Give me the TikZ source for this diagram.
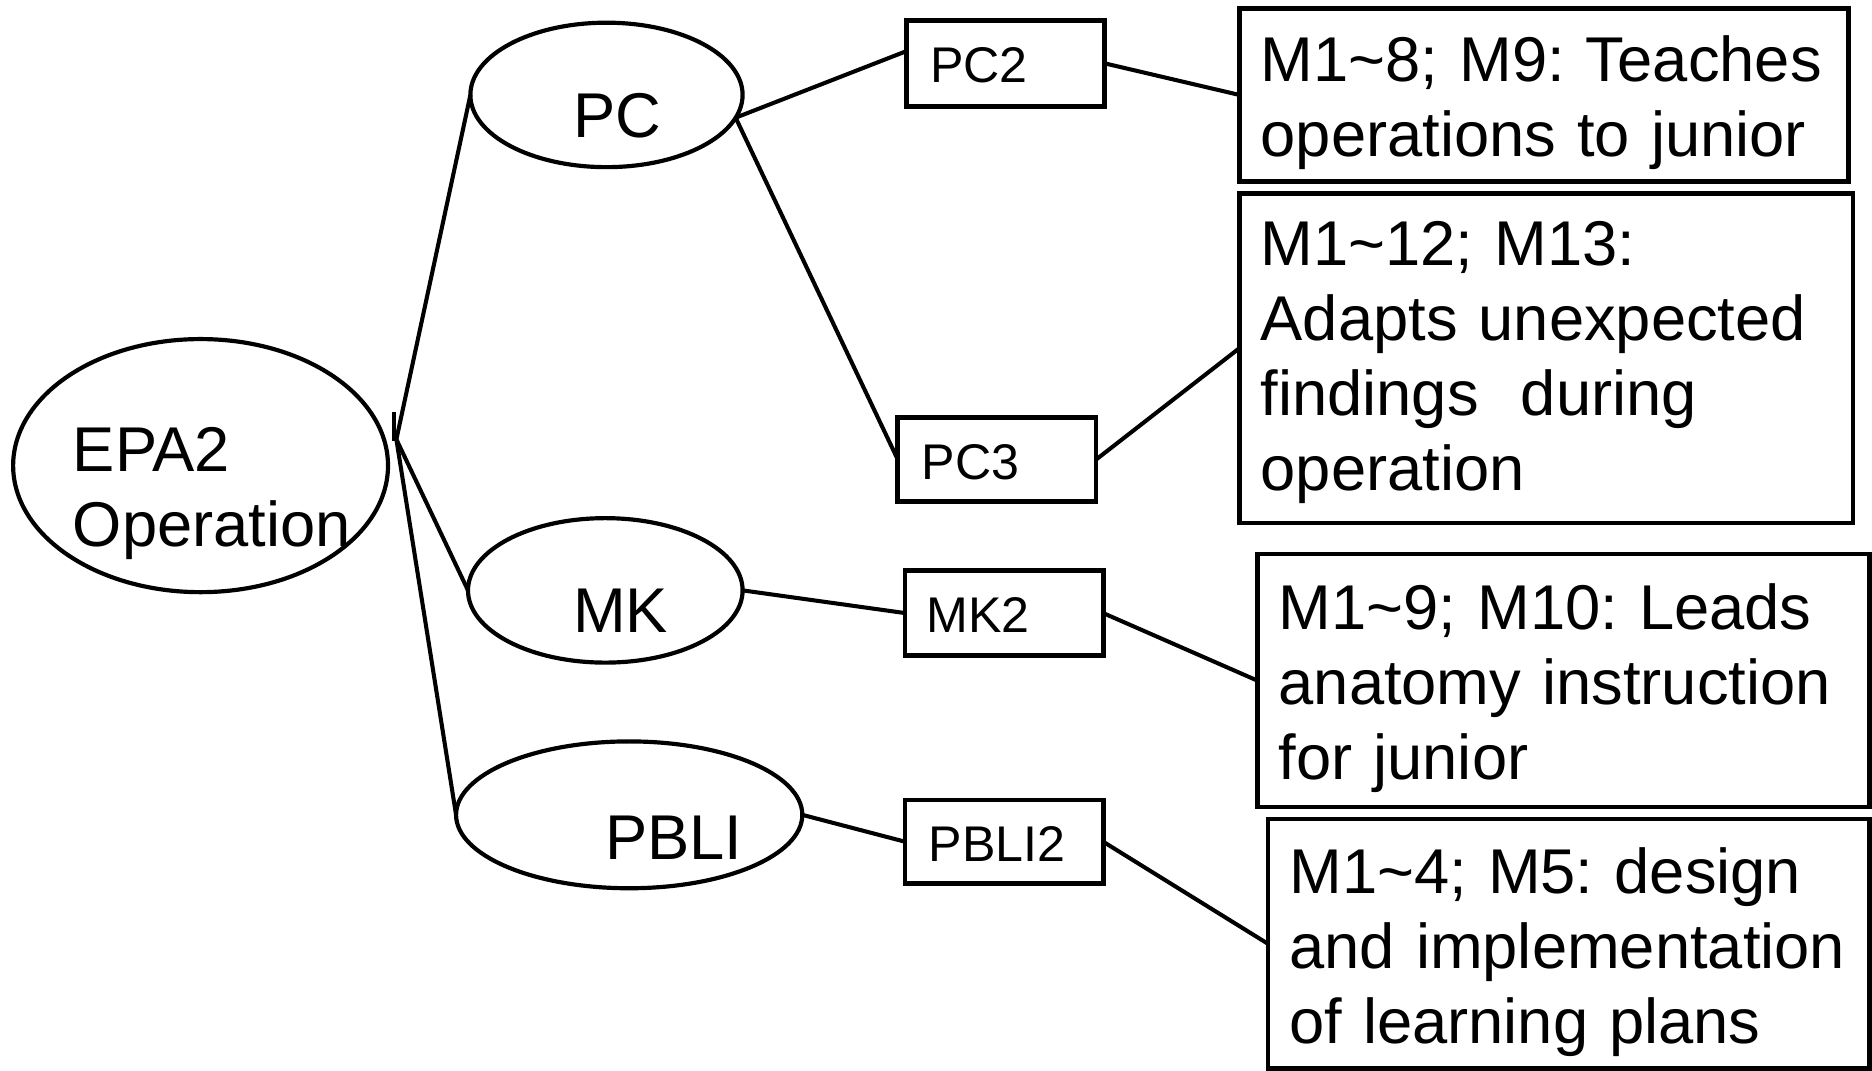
\documentclass[tikz,border=0pt]{standalone}
\usepackage{fontspec}
\setmainfont{Liberation Sans}
\frenchspacing
\usetikzlibrary{shapes.geometric,calc}
\begin{document}
\begin{tikzpicture}[x=1pt,y=-1pt,
  every node/.style={inner sep=0pt, outer sep=0pt},
  link/.style={line width=3.4pt},
  oval/.style={draw, ellipse, line width=3.5pt},
  codebox/.style={draw, rectangle, line width=4pt, anchor=north west},
  detailbox/.style={draw, rectangle, line width=4pt, anchor=north west},
  bigtext/.style={font=\fontsize{53}{63}\selectfont},
  smalltext/.style={font=\fontsize{42}{50}\selectfont},
  txt/.style={anchor=base west, text width=560pt, align=left},
]
\useasboundingbox (0,0) rectangle (1568,897);

% competency ellipses
\node[oval, minimum width=314pt, minimum height=212pt] (epa) at (168,390) {};
\node[oval, minimum width=228pt, minimum height=121pt] (pc) at (508,79.5) {};
\node[oval, minimum width=230pt, minimum height=121pt] (mk) at (507,494.5) {};
\node[oval, minimum width=290pt, minimum height=123pt] (pb) at (527,682.5) {};

\node[bigtext, txt] (epaT) at (61,395) {EPA2\\Operation};
\node[bigtext, anchor=base west] (pcT) at (480,115) {PC};
\node[bigtext, anchor=base west] (mkT) at (480,530) {MK};
\node[bigtext, anchor=base west] (pbT) at (507,720) {PBLI};

% sub-competency boxes
\node[codebox, minimum width=166pt, minimum height=72pt] (pc2) at (759,17) {};
\node[codebox, minimum width=166pt, minimum height=70pt] (pc3) at (752,350) {};
\node[codebox, minimum width=166pt, minimum height=71pt] (mk2) at (758,478) {};
\node[codebox, minimum width=166pt, minimum height=70pt] (pb2) at (758,670) {};

\node[smalltext, anchor=base west] (pc2T) at (779,69) {PC2};
\node[smalltext, anchor=base west] (pc3T) at (772,402) {PC3};
\node[smalltext, anchor=base west] (mk2T) at (776,530) {MK2};
\node[smalltext, anchor=base west] (pb2T) at (778,722) {PBLI2};

% milestone description boxes
\node[detailbox, minimum width=510pt, minimum height=145pt] (d1) at (1038,7) {};
\node[detailbox, minimum width=514pt, minimum height=276pt] (d2) at (1038,162) {};
\node[detailbox, minimum width=513pt, minimum height=212pt] (d3) at (1053,464) {};
\node[detailbox, minimum width=504pt, minimum height=209pt] (d4) at (1062,686) {};

\node[bigtext, txt] (d1T) at (1056,68) {M1\textasciitilde 8; M9: Teaches\\operations to junior};
\node[bigtext, txt] (d2T) at (1056,222) {M1\textasciitilde 12; M13:\\Adapts unexpected\\findings\ \ during\\operation};
\node[bigtext, txt] (d3T) at (1071,527) {M1\textasciitilde 9; M10: Leads\\anatomy instruction\\for junior};
\node[bigtext, txt] (d4T) at (1080,748) {M1\textasciitilde 4; M5: design\\and implementation\\of learning plans};

% branching point next to the EPA ellipse
\coordinate (j) at (332,368);
\coordinate (tickTop) at (330,345);
\coordinate (tickBot) at (330,369);
\draw[link] (tickTop) -- (tickBot);
\draw[link] (j) -- (pc.west);
\draw[link] (j) -- (mk.west);
\draw[link] (j) -- (pb.west);

% competency to sub-competency
\draw[link] (pc.-10) -- ($(pc2.north west)!0.36!(pc2.south west)$);
\draw[link] (pc.-10) -- (pc3.west);
\draw[link] (mk.east) -- (mk2.west);
\draw[link] (pb.east) -- (pb2.west);

% sub-competency to milestones
\draw[link] (pc2.east) -- (d1.west);
\draw[link] (pc3.east) -- ($(d2.north west)!0.47!(d2.south west)$);
\draw[link] (mk2.east) -- (d3.west);
\draw[link] (pb2.east) -- (d4.west);
\end{tikzpicture}
\end{document}
